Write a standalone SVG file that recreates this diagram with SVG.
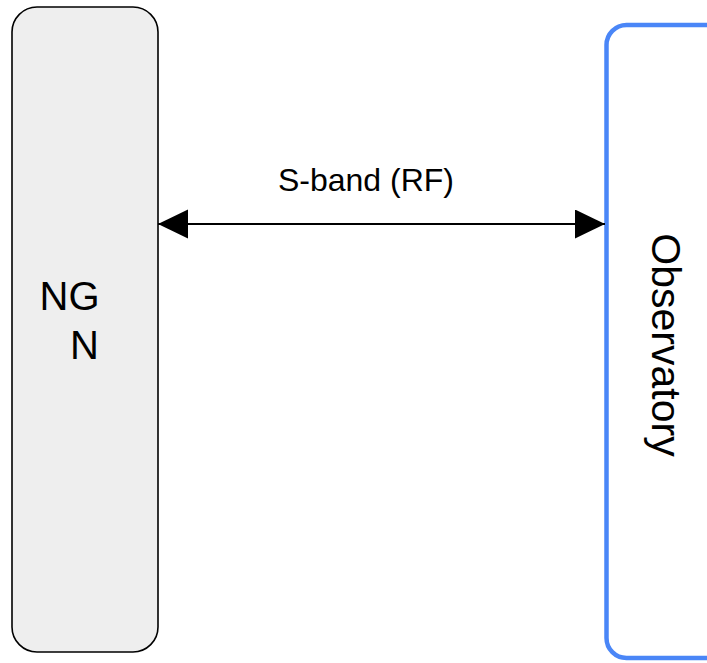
<svg xmlns="http://www.w3.org/2000/svg" width="707" height="663" viewBox="0 0 707 663">
  <style>
    .label { font-family: "Liberation Sans", Arial, sans-serif; fill: #000000; }
    .ground { fill: #eeeeee; stroke: #000000; stroke-width: 1.6; }
    .craft { fill: #ffffff; stroke: #4a86f7; stroke-width: 4.5; }
    .link { stroke: #000000; stroke-width: 2; fill: none; }
  </style>
  <defs>
    <marker id="head" markerUnits="userSpaceOnUse" markerWidth="31" markerHeight="30" refX="30" refY="14.5" orient="auto-start-reverse" viewBox="0 0 31 30">
      <path d="M0,0 L30,14.5 L0,29 z" fill="#000000"/>
    </marker>
  </defs>

  <!-- ground network -->
  <g id="ngn">
    <rect class="ground" x="12" y="7" width="146" height="645" rx="25" ry="25"/>
    <text class="label" font-size="40" x="69.5" y="310" text-anchor="middle">NG</text>
    <text class="label" font-size="40" x="84.5" y="359" text-anchor="middle">N</text>
  </g>

  <!-- spacecraft -->
  <g id="observatory">
    <rect class="craft" x="606.5" y="25" width="200" height="633" rx="20" ry="20"/>
    <text class="label" font-size="41" text-anchor="middle" transform="translate(652,345) rotate(90)">Observatory</text>
  </g>

  <!-- RF link -->
  <g id="connectors">
    <line class="link" x1="158" y1="224" x2="605" y2="224" marker-start="url(#head)" marker-end="url(#head)"/>
    <text class="label" font-size="32" x="366" y="191" text-anchor="middle">S-band (RF)</text>
  </g>
</svg>
